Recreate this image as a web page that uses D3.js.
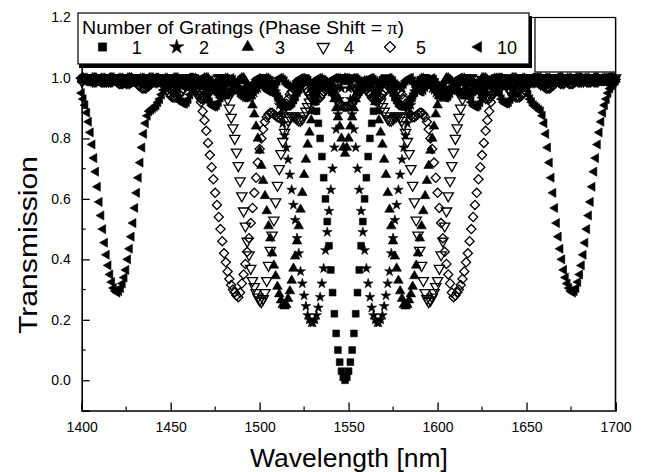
<!DOCTYPE html>
<html><head><meta charset="utf-8">
<script src="https://cdn.jsdelivr.net/npm/d3@7"></script>
<style>body{margin:0;background:#fff}svg{display:block}text{font-family:"Liberation Sans",Arial,sans-serif;fill:#000}</style>
</head><body>
<svg id="c" width="651" height="472"></svg>
<script>
// ---- data ----
const wavelengthStart = 1400, wavelengthEnd = 1700, wavelengthStep = 1;
const xTicks = [1400,1450,1500,1550,1600,1650,1700];
const yTicks = [0.0,0.2,0.4,0.6,0.8,1.0,1.2];
const gratingCounts = ["1","2","3","4","5","10"];

const transN1 = [
.995,.995,1,1,1,.995,.995,.99,.99,.99,
.995,.995,1,1,1,.995,.995,.99,.99,.99,
.99,.995,.995,1,1,1,.995,.99,.99,.985,
.985,.99,.99,.99,.995,1,1,1,.995,.99,
.99,.985,.985,.985,.985,.99,.99,.995,1,1,
1,.995,.99,.985,.985,.98,.98,.98,.985,.985,
.99,.995,1,1,1,.995,.99,.985,.98,.98,
.975,.975,.975,.975,.975,.98,.98,.985,.99,.995,
1,1,.995,.99,.985,.98,.975,.97,.965,.96,
.96,.955,.955,.96,.96,.965,.97,.975,.98,.985,
.99,.995,1,1,.995,.99,.98,.97,.96,.95,
.94,.93,.92,.91,.905,.905,.905,.91,.915,.925,
.935,.95,.96,.975,.985,.995,1,.995,.985,.97,
.95,.925,.89,.85,.80,.74,.67,.60,.525,.445,
.365,.29,.22,.155,.10,.06,.03,.01,0,.01,
.03,.06,.10,.155,.22,.29,.365,.445,.525,.60,
.67,.74,.80,.85,.89,.925,.95,.97,.985,.995,
1,.995,.985,.975,.96,.95,.935,.925,.915,.91,
.905,.905,.905,.91,.92,.93,.94,.95,.96,.97,
.98,.99,.995,1,1,.995,.99,.985,.98,.975,
.97,.965,.96,.96,.955,.955,.96,.96,.965,.97,
.975,.98,.985,.99,.995,1,1,.995,.99,.985,
.98,.98,.975,.975,.975,.975,.975,.98,.98,.985,
.99,.995,1,1,1,.995,.99,.985,.985,.98,
.98,.98,.985,.985,.99,.995,1,1,1,.995,
.99,.99,.985,.985,.985,.985,.99,.99,.995,1,
1,1,.995,.99,.99,.99,.985,.985,.99,.99,
.995,1,1,1,.995,.995,.99,.99,.99,.99,
.995,.995,1,1,1,.995,.995,.99,.99,.99,
.995,.995,1,1,1,.995,.995,.99,.99,.995,
.995];

const transN2 = [
.995,1,1,1,.995,.995,.99,.99,.99,.995,
.995,1,1,1,.995,.99,.99,.99,.99,.99,
.995,1,1,1,.995,.99,.99,.985,.985,.985,
.99,.99,.995,1,1,1,.995,.99,.985,.985,
.98,.98,.985,.985,.99,.995,.995,1,1,.995,
.99,.985,.98,.98,.975,.975,.975,.98,.98,.985,
.99,.995,1,1,1,.995,.99,.985,.98,.975,
.97,.965,.965,.965,.965,.97,.975,.98,.985,.99,
.995,1,1,.995,.99,.98,.975,.965,.96,.95,
.945,.94,.935,.935,.935,.94,.945,.95,.96,.965,
.975,.98,.99,.995,1,1,.995,.985,.97,.955,
.935,.91,.88,.85,.81,.77,.73,.68,.63,.58,
.53,.47,.42,.36,.32,.28,.245,.215,.20,.19,
.19,.20,.215,.24,.275,.32,.37,.43,.49,.56,
.63,.70,.77,.83,.88,.93,.965,.99,1,.99,
.965,.93,.88,.83,.77,.70,.63,.56,.49,.43,
.37,.32,.275,.24,.215,.20,.19,.19,.20,.215,
.245,.28,.32,.36,.42,.47,.53,.58,.63,.68,
.73,.77,.81,.85,.88,.91,.935,.955,.97,.985,
.995,1,1,.995,.99,.98,.975,.965,.96,.95,
.945,.94,.935,.935,.935,.94,.945,.95,.96,.965,
.975,.98,.99,.995,1,1,.995,.99,.985,.98,
.975,.97,.965,.965,.965,.965,.97,.975,.98,.985,
.99,.995,1,1,1,.995,.99,.985,.98,.98,
.975,.975,.975,.98,.98,.985,.99,.995,1,1,
.995,.995,.99,.985,.985,.98,.98,.985,.985,.99,
.995,1,1,1,.995,.99,.99,.985,.985,.985,
.99,.99,.995,1,1,1,.995,.99,.99,.99,
.99,.99,.995,1,1,1,.995,.995,.99,.99,
.99,.995,.995,1,1,1,.995,.995,.99,.99,
.995];

const transN3 = [
.995,.995,.99,.99,.995,.995,1,1,1,.995,
.995,.99,.99,.99,.995,.995,1,1,1,.995,
.99,.99,.99,.99,.99,.995,1,1,1,.995,
.99,.99,.985,.985,.985,.99,.99,.995,1,1,
1,.995,.99,.985,.985,.98,.98,.98,.985,.985,
.99,.995,1,1,1,.995,.99,.985,.98,.975,
.97,.97,.97,.97,.975,.98,.985,.99,.995,1,
1,1,.99,.985,.975,.965,.955,.95,.945,.94,
.94,.94,.945,.95,.955,.965,.975,.98,.99,.995,
1,1,.99,.98,.96,.94,.91,.88,.84,.80,
.76,.71,.66,.61,.56,.51,.47,.42,.38,.345,
.31,.285,.265,.25,.245,.25,.27,.295,.33,.37,
.41,.46,.51,.565,.62,.68,.73,.78,.82,.86,
.89,.92,.945,.965,.98,.99,.99,.99,.985,.975,
.965,.95,.93,.90,.87,.84,.80,.77,.75,.77,
.80,.84,.87,.90,.93,.95,.965,.975,.985,.99,
.99,.99,.98,.965,.945,.92,.89,.86,.82,.78,
.73,.68,.62,.565,.51,.46,.41,.37,.33,.295,
.27,.25,.245,.25,.265,.285,.31,.345,.38,.42,
.47,.51,.56,.61,.66,.71,.76,.80,.84,.88,
.91,.94,.96,.98,.99,1,1,.995,.99,.98,
.975,.965,.955,.95,.945,.94,.94,.94,.945,.95,
.955,.965,.975,.985,.99,1,1,1,.995,.99,
.985,.98,.975,.97,.97,.97,.97,.975,.98,.985,
.99,.995,1,1,1,.995,.99,.985,.985,.98,
.98,.98,.985,.985,.99,.995,1,1,1,.995,
.99,.99,.985,.985,.985,.99,.99,.995,1,1,
1,.995,.99,.99,.99,.99,.99,.995,1,1,
1,.995,.995,.99,.99,.99,.995,.995,1,1,
1,.995,.995,.99,.99,.995,.995,1,1,1,
.995];

const transN4 = [
.99,.995,1,1,1,.995,.99,.99,.99,.995,
1,1,1,.995,.99,.99,.99,.99,.995,1,
1,1,.995,.99,.99,.985,.985,.985,.99,.995,
1,1,1,.995,.99,.985,.98,.98,.98,.985,
.99,.995,1,1,1,.995,.99,.98,.975,.97,
.965,.965,.965,.97,.975,.98,.99,.995,1,1,
.995,.985,.975,.965,.955,.945,.94,.935,.935,.935,
.94,.945,.955,.965,.975,.985,.995,1,1,.99,
.975,.955,.93,.90,.87,.835,.80,.755,.71,.66,
.61,.56,.51,.46,.415,.37,.33,.31,.29,.275,
.265,.26,.27,.29,.33,.38,.43,.48,.53,.59,
.645,.70,.75,.79,.82,.845,.86,.87,.875,.875,
.87,.865,.86,.86,.865,.875,.89,.905,.92,.935,
.95,.96,.97,.975,.98,.98,.98,.975,.97,.965,
.96,.96,.965,.97,.98,.99,.995,1,1,1,
.995,.99,.98,.97,.965,.96,.96,.965,.97,.975,
.98,.98,.98,.975,.97,.96,.95,.935,.92,.905,
.89,.875,.865,.86,.86,.865,.87,.875,.875,.87,
.86,.845,.82,.79,.75,.70,.645,.59,.53,.48,
.43,.38,.33,.29,.27,.26,.265,.275,.29,.31,
.33,.37,.415,.46,.51,.56,.61,.66,.71,.755,
.80,.835,.87,.90,.93,.955,.975,.99,1,1,
.995,.985,.975,.965,.955,.945,.94,.935,.935,.935,
.94,.945,.955,.965,.975,.985,.995,1,1,.995,
.99,.98,.975,.97,.965,.965,.965,.97,.975,.98,
.99,.995,1,1,1,.995,.99,.985,.98,.98,
.98,.985,.99,.995,1,1,1,.995,.99,.985,
.985,.985,.99,.99,.995,1,1,1,.995,.99,
.99,.99,.99,.995,1,1,1,.995,.99,.99,
.99,.995,1,1,1,.995,.99,.99,.99,.995,
1];

const transN5 = [
1,1,.995,.99,.99,.99,.995,1,1,.995,
.99,.985,.985,.985,.99,.995,1,1,.995,.99,
.985,.98,.98,.98,.985,.99,.995,1,1,.995,
.99,.985,.975,.97,.965,.965,.965,.97,.975,.98,
.99,.995,1,1,.995,.99,.98,.97,.96,.95,
.94,.935,.935,.935,.94,.945,.955,.965,.975,.985,
.995,1,1,.99,.98,.965,.945,.92,.89,.86,
.825,.785,.745,.705,.665,.62,.58,.54,.50,.46,
.42,.39,.36,.335,.315,.30,.29,.28,.275,.29,
.32,.35,.385,.425,.47,.52,.57,.62,.67,.72,
.765,.80,.83,.855,.87,.88,.885,.885,.88,.875,
.87,.87,.875,.885,.90,.915,.93,.945,.955,.965,
.975,.98,.985,.985,.98,.975,.965,.955,.945,.935,
.93,.925,.925,.93,.935,.945,.955,.96,.965,.965,
.96,.955,.945,.935,.925,.915,.91,.905,.905,.905,
.905,.91,.915,.925,.935,.945,.955,.96,.965,.965,
.96,.955,.945,.935,.93,.925,.925,.93,.935,.945,
.955,.965,.975,.98,.985,.985,.98,.975,.965,.955,
.945,.93,.915,.90,.885,.875,.87,.87,.875,.88,
.885,.885,.88,.87,.855,.83,.80,.765,.72,.67,
.62,.57,.52,.47,.425,.385,.35,.32,.29,.275,
.28,.29,.30,.315,.335,.36,.39,.42,.46,.50,
.54,.58,.62,.665,.705,.745,.785,.825,.86,.89,
.92,.945,.965,.98,.99,1,1,.995,.985,.975,
.965,.955,.945,.94,.935,.935,.935,.94,.95,.96,
.97,.98,.99,.995,1,1,.995,.99,.98,.975,
.97,.965,.965,.965,.97,.975,.985,.99,.995,1,
1,.995,.99,.985,.98,.98,.98,.985,.99,.995,
1,1,.995,.99,.985,.985,.985,.99,.995,1,
1,.995,.99,.99,.99,.995,1,1,1,.995,
.995];

const transN10 = [
.95,.93,.91,.885,.855,.82,.78,.735,.69,.64,
.59,.545,.50,.455,.415,.38,.35,.325,.305,.295,
.29,.295,.305,.32,.34,.365,.40,.435,.475,.52,
.57,.62,.67,.72,.77,.815,.85,.875,.89,.895,
.90,.905,.91,.92,.93,.945,.96,.975,.985,.99,
.99,.985,.975,.96,.945,.93,.92,.915,.915,.92,
.93,.945,.96,.975,.985,.99,.995,.99,.98,.965,
.95,.935,.92,.91,.905,.905,.91,.92,.935,.95,
.965,.98,.99,.995,1,.995,.985,.975,.96,.95,
.94,.935,.935,.94,.95,.96,.975,.985,.995,1,
.995,.99,.98,.97,.96,.955,.955,.96,.97,.98,
.99,1,1,.995,.99,.98,.975,.97,.97,.975,
.98,.99,.995,1,1,.995,.99,.985,.98,.98,
.985,.99,.995,1,1,.995,.99,.985,.985,.985,
.99,.995,1,1,1,.995,.995,1,1,1,
.995,.995,1,1,1,.995,.99,.985,.985,.985,
.99,.995,1,1,.995,.99,.985,.98,.98,.985,
.99,.995,1,1,.995,.99,.98,.975,.97,.97,
.975,.98,.99,.995,1,1,.99,.98,.97,.96,
.955,.955,.96,.97,.98,.99,.995,1,.995,.985,
.975,.96,.95,.94,.935,.935,.94,.95,.96,.975,
.985,.995,1,.995,.99,.98,.965,.95,.935,.92,
.91,.905,.905,.91,.92,.935,.95,.965,.98,.99,
.995,.99,.985,.975,.96,.945,.93,.92,.915,.915,
.92,.93,.945,.96,.975,.985,.99,.99,.985,.975,
.96,.945,.93,.92,.91,.905,.90,.895,.89,.875,
.85,.815,.77,.72,.67,.62,.57,.52,.475,.435,
.40,.365,.34,.32,.305,.295,.29,.295,.305,.325,
.35,.38,.415,.455,.50,.545,.59,.64,.69,.735,
.78,.82,.855,.885,.91,.93,.95,.965,.975,.985,
.99];

// ---- chart ----
const svg = d3.select("#c");
const x = d3.scaleLinear().domain([1400,1700]).range([81.7,615.5]);
const y = d3.scaleLinear().domain([-0.1,1.2]).range([410.5,17.5]);
const wavelengths = d3.range(wavelengthStart, wavelengthEnd + wavelengthStep/2, wavelengthStep);

const seriesValues = [transN1, transN2, transN3, transN4, transN5, transN10];
const markerStyle = [
  {sym:d3.symbolSquare,   size:46, rot:0,   fill:true},
  {sym:d3.symbolStar,     size:30, rot:0,   fill:true},
  {sym:d3.symbolTriangle, size:40, rot:0,   fill:true},
  {sym:d3.symbolTriangle, size:46, rot:180, fill:false},
  {sym:d3.symbolSquare,   size:42, rot:45,  fill:false},
  {sym:d3.symbolTriangle, size:36, rot:-90, fill:true}
];

const plot = svg.append("g");
seriesValues.forEach((vals, si) => {
  const st = markerStyle[si];
  const pts = wavelengths.map((w,i) => [w, vals[i]]).filter(d => d[1] != null);
  plot.append("g").selectAll("path").data(pts).join("path")
    .attr("d", d3.symbol(st.sym, st.size)())
    .attr("transform", d => `translate(${x(d[0]).toFixed(2)},${y(d[1]).toFixed(2)}) rotate(${st.rot})`)
    .attr("fill", st.fill ? "#000" : "none")
    .attr("stroke", "#000")
    .attr("stroke-width", st.fill ? 0.6 : 1.3);
});

// axes
const axisX = d3.axisBottom(x).tickValues(xTicks).tickSize(-8).tickPadding(12).tickFormat(d3.format("d"));
const gx = svg.append("g").attr("transform", `translate(0,${y(-0.1)})`).call(axisX);
const axisY = d3.axisLeft(y).tickValues(yTicks).tickSize(-8).tickPadding(11).tickFormat(d3.format(".1f"));
const gy = svg.append("g").attr("transform", `translate(${x(1400)},0)`).call(axisY);
[gx, gy].forEach(g => {
  g.select(".domain").attr("stroke","#000").attr("stroke-width",1.6);
  g.selectAll(".tick line").attr("stroke","#000").attr("stroke-width",1.3);
  g.selectAll(".tick text").attr("font-size",14).attr("font-family","Liberation Sans, Arial, sans-serif").attr("fill","#000");
});
// minor ticks
const xMinor = d3.range(1425, 1700, 50);
svg.append("g").selectAll("line").data(xMinor).join("line")
  .attr("x1", d => x(d)).attr("x2", d => x(d)).attr("y1", y(-0.1)).attr("y2", y(-0.1) - 4)
  .attr("stroke","#000").attr("stroke-width",1.2);
const yMinor = [0.1,0.3,0.5,0.7,0.9,1.1];
svg.append("g").selectAll("line").data(yMinor).join("line")
  .attr("y1", d => y(d)).attr("y2", d => y(d)).attr("x1", x(1400)).attr("x2", x(1400) + 4)
  .attr("stroke","#000").attr("stroke-width",1.2);
// frame right / top
svg.append("line").attr("x1", x(1700)).attr("x2", x(1700)).attr("y1", y(1.2)).attr("y2", y(-0.1)).attr("stroke","#000").attr("stroke-width",1.6);
svg.append("line").attr("x1", x(1400)).attr("x2", x(1700)).attr("y1", y(1.2)).attr("y2", y(1.2)).attr("stroke","#000").attr("stroke-width",1.2);

// small empty box at top right
svg.append("rect").attr("x",535).attr("y",y(1.2)).attr("width",x(1700)-535).attr("height",72-y(1.2))
  .attr("fill","#fff").attr("stroke","#000").attr("stroke-width",1.2);

// legend
const lg = svg.append("g");
lg.append("rect").attr("x",79).attr("y",16).attr("width",453).attr("height",52).attr("fill","#000");
lg.append("rect").attr("x",78).attr("y",13).attr("width",451).attr("height",51).attr("fill","#fff").attr("stroke","#000").attr("stroke-width",1.2);
const title = lg.append("text").attr("x",82).attr("y",33.5).attr("font-size",18.5)
  .attr("textLength",322).attr("lengthAdjust","spacingAndGlyphs");
title.append("tspan").text("Number of Gratings (Phase Shift = ");
title.append("tspan").attr("font-family","Liberation Serif, Times New Roman, serif").text("π");
title.append("tspan").text(")");
const legSymX = [102.5,176.7,247.7,323.3,390,478.3];
const legLabX = [136.7,204,280,349,421,507];
const legScale = [1.5,2.2,1.5,1.4,1.4,1.5];
gratingCounts.forEach((n,i) => {
  const st = markerStyle[i];
  lg.append("path").attr("d", d3.symbol(st.sym, st.size*legScale[i])())
    .attr("transform", `translate(${legSymX[i]},47) rotate(${st.rot})`)
    .attr("fill", st.fill ? "#000" : "none").attr("stroke","#000").attr("stroke-width", st.fill?0.5:1.3);
  lg.append("text").attr("x",legLabX[i]).attr("y",53.5).attr("text-anchor","middle").attr("font-size",18).text(n);
});

// axis titles
svg.append("text").attr("x",349).attr("y",466.5).attr("text-anchor","middle").attr("font-size",25)
  .attr("textLength",198).attr("lengthAdjust","spacingAndGlyphs").text("Wavelength [nm]");
svg.append("text").attr("transform","translate(37,245) rotate(-90)").attr("text-anchor","middle").attr("font-size",26)
  .attr("textLength",178).attr("lengthAdjust","spacingAndGlyphs").text("Transmission");
</script>
</body></html>
